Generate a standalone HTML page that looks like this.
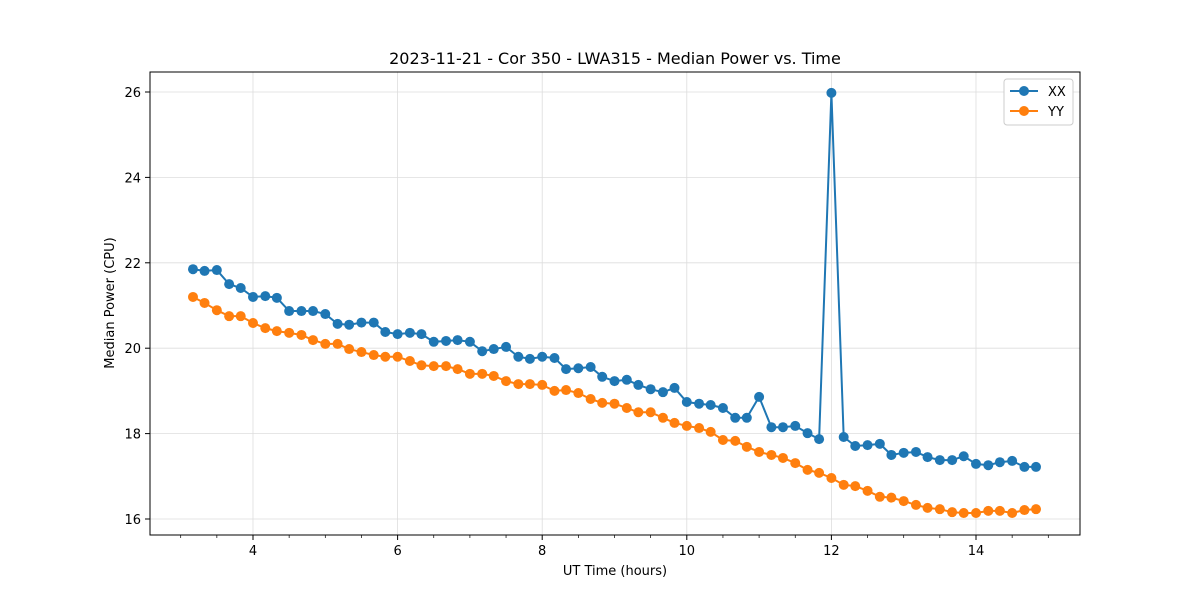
<!DOCTYPE html>
<html><head><meta charset="utf-8"><style>
body{margin:0;background:#fff}
svg text{font-family:"DejaVu Sans","Liberation Sans",sans-serif;fill:#000}
</style></head><body>
<svg id="chart" width="1200" height="600" xmlns="http://www.w3.org/2000/svg">
<rect width="1200" height="600" fill="#fff"/>
<g id="grid"></g>
<g id="series"></g>
<rect x="150" y="72" width="930" height="463" fill="none" stroke="#000" stroke-width="1"/>
<g id="axes"></g>
<text x="615" y="64" font-size="16" text-anchor="middle">2023-11-21 - Cor 350 - LWA315 - Median Power vs. Time</text>
<text x="615" y="575" font-size="13" text-anchor="middle">UT Time (hours)</text>
<text x="114" y="303" font-size="13" text-anchor="middle" transform="rotate(-90 114 303)">Median Power (CPU)</text>
<g>
<rect x="1004" y="79" width="69" height="46" rx="3" fill="#fff" stroke="#ccc"/>
<g><line x1="1010" y1="91" x2="1038" y2="91" stroke="#1f77b4" stroke-width="2"/><circle cx="1024" cy="91" r="5" fill="#1f77b4"/><text x="1048" y="96" font-size="13">XX</text></g>
<g><line x1="1010" y1="111" x2="1038" y2="111" stroke="#ff7f0e" stroke-width="2"/><circle cx="1024" cy="111" r="5" fill="#ff7f0e"/><text x="1048" y="116" font-size="13">YY</text></g>
</g>
</svg>
<script>
const times=[3.17,3.33,3.5,3.67,3.83,4.0,4.17,4.33,4.5,4.67,4.83,5.0,5.17,5.33,5.5,5.67,5.83,6.0,6.17,6.33,6.5,6.67,6.83,7.0,7.17,7.33,7.5,7.67,7.83,8.0,8.17,8.33,8.5,8.67,8.83,9.0,9.17,9.33,9.5,9.67,9.83,10.0,10.17,10.33,10.5,10.67,10.83,11.0,11.17,11.33,11.5,11.67,11.83,12.0,12.17,12.33,12.5,12.67,12.83,13.0,13.17,13.33,13.5,13.67,13.83,14.0,14.17,14.33,14.5,14.67,14.83];
const xx=[21.85,21.81,21.83,21.5,21.41,21.2,21.22,21.18,20.87,20.87,20.87,20.8,20.57,20.55,20.6,20.6,20.38,20.33,20.36,20.33,20.15,20.17,20.19,20.15,19.93,19.98,20.03,19.8,19.75,19.8,19.77,19.51,19.53,19.56,19.33,19.23,19.26,19.14,19.04,18.97,19.07,18.74,18.7,18.67,18.6,18.37,18.37,18.86,18.15,18.15,18.18,18.01,17.87,25.98,17.92,17.71,17.73,17.76,17.5,17.55,17.57,17.45,17.38,17.38,17.47,17.29,17.26,17.33,17.36,17.22,17.22];
const yy=[21.2,21.06,20.89,20.75,20.75,20.59,20.47,20.4,20.36,20.31,20.19,20.1,20.1,19.98,19.91,19.84,19.8,19.8,19.7,19.6,19.58,19.58,19.51,19.4,19.4,19.35,19.23,19.16,19.16,19.14,19.0,19.02,18.95,18.81,18.72,18.7,18.6,18.5,18.5,18.37,18.25,18.18,18.13,18.04,17.85,17.83,17.69,17.57,17.5,17.43,17.31,17.15,17.08,16.96,16.8,16.77,16.66,16.52,16.5,16.42,16.33,16.26,16.23,16.16,16.14,16.14,16.19,16.19,16.14,16.21,16.23];
const xTicks=[4,6,8,10,12,14];
const xMinor=[3,3.5,4.5,5,5.5,6.5,7,7.5,8.5,9,9.5,10.5,11,11.5,12.5,13,13.5,14.5,15];
const yTicks=[16,18,20,22,24,26];
const NS="http://www.w3.org/2000/svg";
function X(v){return 253+(v-4)*72.3;}
function Y(v){return 519-(v-16)*42.7;}
function mk(parent,tag,attrs){const e=document.createElementNS(NS,tag);for(const k in attrs)e.setAttribute(k,attrs[k]);document.getElementById(parent).appendChild(e);return e;}
xTicks.forEach(t=>{
  const g=mk('grid','line',{x1:X(t),x2:X(t),y1:72,y2:535,stroke:'#ddd','stroke-width':0.8});
  
  
  const tk=mk('axes','line',{x1:X(t),x2:X(t),y1:535,y2:540,stroke:'#000'});
  
  
  const tx=mk('axes','text',{x:X(t),y:555,'font-size':13,'text-anchor':'middle'});
  tx.textContent=t;
  
  
});
xMinor.forEach(t=>{
  const tk=mk('axes','line',{x1:X(t),x2:X(t),y1:535,y2:538,stroke:'#000','stroke-width':0.7});
  
  
});
yTicks.forEach(t=>{
  const g=mk('grid','line',{x1:150,x2:1080,y1:Y(t),y2:Y(t),stroke:'#ddd','stroke-width':0.8});
  
  
  const tk=mk('axes','line',{x1:145,x2:150,y1:Y(t),y2:Y(t),stroke:'#000'});
  
  
  const tx=mk('axes','text',{x:141,y:Y(t)+5,'font-size':13,'text-anchor':'end'});
  tx.textContent=t;
  
  
});
function series(vals,color,name){
  const pts=vals.map((v,i)=>X(times[i])+','+Y(v)).join(' ');
  const pl=mk('series','polyline',{points:pts,fill:'none',stroke:color,'stroke-width':2});
  
  
  vals.forEach((v,i)=>{
    const c=mk('series','circle',{cx:X(times[i]),cy:Y(v),r:5,fill:color});
    
    
  });
}
series(xx,'#1f77b4','xx');
series(yy,'#ff7f0e','yy');
</script>
</body></html>
